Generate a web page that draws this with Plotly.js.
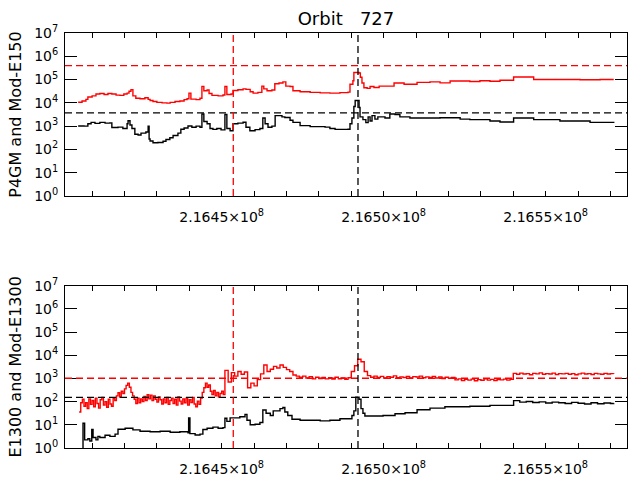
<!DOCTYPE html>
<html>
<head>
<meta charset="utf-8">
<script src="https://cdn.plot.ly/plotly-3.0.1.min.js"></script>
<style>
html, body { margin: 0; padding: 0; background: #fff; }
#orbit { width: 637px; height: 480px; }
</style>
</head>
<body>
<div id="orbit"></div>
<script>
// Top panel, black: P4GM
var p4gmTime = [216405700,216407500,216408700,216409700,216410900,216412400,216414000,216415500,216416100,216418000,
  216419500,216420800,216421100,216421700,216422300,216423200,216424200,216425100,216426600,216427300,
  216427600,216427900,216428800,216430300,216431900,216432800,216434000,216435000,216436500,216437400,
  216438400,216439600,216440800,216442100,216443300,216443900,216444500,216445500,216446400,216447300,
  216448500,216449800,216451000,216451600,216452600,216453500,216455000,216456600,216457500,216458700,
  216460300,216461800,216462700,216463400,216464300,216465500,216466500,216468600,216469500,216471100,
  216472000,216474200,216477300,216481900,216483400,216485000,216489000,216489600,216490200,216490800,
  216491200,216492400,216492700,216493600,216494500,216495200,216495800,216496400,216497300,216498200,
  216500400,216501900,216503500,216505000,216508100,216517400,216523600,216526600,216532800,216535900,
  216540100,216546300,216554400,216563700,216571000];
var p4gmVal = [1020,1000,1260,1450,1320,1450,1350,1380,871,912,
  794,1260,1700,1120,794,447,417,501,562,1000,
  282,229,195,200,224,269,316,398,501,741,
  832,1020,891,1000,891,3310,1580,1260,794,724,
  794,692,3160,794,631,1260,1350,1480,891,631,
  708,794,2240,1260,891,1000,2820,2510,2340,1780,
  1450,1050,955,912,794,724,741,1260,2240,7000,
  12600,6310,2510,1910,1410,2510,1660,2820,2000,2510,
  2240,3310,3160,2510,2240,2290,2000,1910,1660,1510,
  2240,1910,1660,1450,1380];

// Top panel, red: Mod-E150
var modE150Time = [216405700,216406900,216408100,216408700,216410000,216411200,216412400,216413700,216414900,216416100,
  216417400,216418600,216419800,216420800,216421400,216422000,216422600,216423500,216424800,216426300,
  216427300,216427900,216428800,216430000,216431600,216433100,216434100,216435600,216437100,216438400,
  216439300,216439900,216440500,216442100,216443300,216443900,216444500,216445500,216446100,216447000,
  216448900,216450400,216451000,216451600,216452900,216453500,216455000,216456600,216457500,216458800,
  216459700,216461200,216462400,216463000,216464000,216465500,216466400,216467700,216468900,216469800,
  216471100,216472000,216474200,216477300,216480400,216483400,216486500,216489000,216489600,216490500,
  216490800,216492400,216492800,216493300,216493900,216494900,216495800,216497000,216498600,216503200,
  216506300,216510300,216514300,216517400,216520500,216526600,216529700,216532800,216535900,216540100,
  216546300,216554400,216560600,216566800,216571000];
var modE150Val = [10700,12000,14100,17800,20000,24000,25100,22900,25100,24000,
  21400,20900,24000,26300,31600,37200,20000,15800,15100,16600,
  14100,12600,11500,10500,10000,9770,10500,11500,12000,13800,
  15100,26300,14500,13800,15800,51300,33100,35500,25100,20900,
  20000,21900,50100,22900,24000,33900,36300,39800,38000,30200,
  26300,28200,52500,39800,33100,35500,66100,70800,79400,52500,
  50100,33100,30200,28200,26900,26300,27500,28800,63100,89100,
  200000,191000,126000,70800,44700,41700,50100,45700,52500,70800,
  63100,75900,79400,72400,87100,83200,89100,85100,93300,129000,
  100000,100000,97700,100000,100000];

// Bottom panel, black: E1300
var e1300Time = [216405700,216407200,216407700,216408700,216409300,216409900,216410300,216411200,216411800,216412400,
  216414000,216415500,216417100,216418000,216420200,216422600,216424800,216427900,216431000,216434100,
  216437100,216439600,216439800,216440200,216441800,216443300,216444200,216445500,216447300,216448900,
  216450400,216451000,216451600,216452600,216455600,216457200,216457800,216458800,216460300,216461800,
  216462700,216463700,216465000,216465900,216468000,216468900,216469500,216470400,216471700,216474200,
  216480400,216483400,216486500,216489600,216490200,216490800,216491400,216492400,216493000,216493600,
  216494200,216499800,216503500,216506600,216510300,216514300,216518900,216526600,216532800,216540100,
  216542000,216544000,216546000,216548000,216550000,216552000,216554000,216556000,216558000,216560000,
  216562000,216564000,216566000,216568000,216570000,216571000];
var e1300Val = [0.8,11.7,2.24,2.51,2.00,6.31,2.82,2.24,3.16,2.82,
  3.55,3.16,3.98,6.46,7.08,6.03,5.25,5.01,5.25,4.79,
  5.01,4.57,20.0,4.17,3.63,3.98,6.31,7.08,7.94,7.08,
  7.59,19.1,14.1,20.0,22.4,28.2,15.8,10.0,10.5,12.6,
  43.7,31.6,25.1,39.8,50.1,56.2,35.5,25.1,17.4,15.8,
  14.8,15.8,18.2,18.2,25.1,39.8,155,126,50.1,31.6,
  24.0,25.1,30.2,33.1,44.7,52.5,60.3,63.1,69.2,110,
  95.5,102,91.2,97.7,87.1,95.5,89.1,83.2,93.3,85.1,
  79.4,89.1,81.3,87.1,83.2,85.1];

// Bottom panel, red: Mod-E1300
var modE1300Time = [
  216406000,216406500,216407000,216407500,216408000,216408500,216409000,216409500,216410000,216410500,
  216411000,216411500,216412000,216412500,216413000,216413500,216414000,216414500,216415000,216415500,
  216416000,216416500,216417000,216417500,216418000,216418500,216419000,216419500,216420000,216420500,
  216421000,216421500,216422000,216422500,216423000,216423500,216424000,216424500,216425000,216425500,
  216426000,216426500,216427000,216427500,216428000,216428500,216429000,216429500,216430000,216430500,
  216431000,216431500,216432000,216432500,216433000,216433500,216434000,216434500,216435000,216435500,
  216436000,216436500,216437000,216437500,216438000,216438500,216439000,216439500,216440000,216440500,
  216441000,216441500,216442000,216442500,216443000,216443500,216444000,216444500,216445000,216445500,
  216446000,216446500,216447000,216447500,216448000,216448500,216449000,216449500,216450000,216450500,
  216451000,216452000,216453000,216454000,216455000,216456000,216457000,216458000,216459000,216460000,
  216461000,216462000,216463000,216464000,216465000,216466000,216467000,216468000,216469000,216470000,
  216471000,216472000,216473000,216474000,216475000,216476000,216477000,216478000,216479000,216480000,
  216481000,216482000,216483000,216484000,216485000,216486000,216487000,216488000,216489000,216490000,
  216491000,216492000,216493000,216494000,216495000,216496000,216497000,216498000,216499000,216500000,
  216501000,216502000,216503000,216504000,216505000,216506000,216507000,216508000,216509000,216510000,
  216511000,216512000,216513000,216514000,216515000,216516000,216517000,216518000,216519000,216520000,
  216521000,216522000,216523000,216524000,216525000,216526000,216527000,216528000,216529000,216530000,
  216531000,216532000,216533000,216534000,216535000,216536000,216537000,216538000,216539000,216540000,
  216541000,216542000,216543000,216544000,216545000,216546000,216547000,216548000,216549000,216550000,
  216551000,216552000,216553000,216554000,216555000,216556000,216557000,216558000,216559000,216560000,
  216561000,216562000,216563000,216564000,216565000,216566000,216567000,216568000,216569000,216570000,
  216571000];
var modE1300Val = [
  35.5,89.1,126,63.1,89.1,50.1,132,75.9,112,60.3,
  141,83.2,52.5,120,151,70.8,100,57.5,126,79.4,
  63.1,138,112,178,240,158,282,224,355,501,
  631,417,251,178,126,83.2,141,89.1,132,100,
  166,112,200,132,191,112,178,126,95.5,158,
  120,79.4,132,89.1,151,75.9,112,141,83.2,126,
  70.8,158,105,79.4,132,89.1,141,70.8,120,91.2,
  151,79.4,60.3,105,75.9,141,251,398,631,417,
  525,282,200,302,178,251,158,224,282,200,
  2240,708,1780,1260,2000,1510,1910,398,631,479,
  891,1580,3800,2000,2510,3310,2820,3800,3020,2400,
  2000,1410,1260,1120,1260,1050,1200,955,1120,1000,
  1100,955,1070,933,1120,977,1050,912,1070,2000,
  3550,6760,5250,2000,1320,1120,1260,1100,1230,1050,
  1200,1120,1290,1070,1170,1100,1230,1050,1200,1150,
  1260,1070,1170,1100,1230,1050,1150,1000,1120,1020,
  1100,871,955,813,912,851,933,794,891,832,
  955,851,912,813,891,871,933,851,912,1660,
  1510,1700,1550,1620,1450,1660,1580,1740,1510,1620,
  1550,1700,1480,1620,1580,1660,1510,1620,1450,1580,
  1700,1550,1620,1480,1660,1580,1510,1660,1550,1620,
  1580];

// Dashed reference levels
var topLevels = [4.0e5, 3700];
var bottomLevels = [1020, 153];
var levelColors = ['#ff0000', '#000000'];
var eventTimes = [216453580, 216492070];
var eventColors = ['#ff0000', '#000000'];

// Axes
var xRange = [216401640, 216575100];
var xMinorVals = [216410000,216420000,216430000,216440000,216460000,216470000,216480000,216490000,
  216510000,216520000,216530000,216540000,216560000,216570000];
var xMajorVals = [216450000, 216500000, 216550000];
var xMajorText = ['2.1645\u00d710<sup>8</sup>', '2.1650\u00d710<sup>8</sup>', '2.1655\u00d710<sup>8</sup>'];
var yTickVals = [1, 10, 100, 1000, 10000, 100000, 1000000, 10000000];
var yTickText = ['10<sup>0</sup>','10<sup>1</sup>','10<sup>2</sup>','10<sup>3</sup>','10<sup>4</sup>','10<sup>5</sup>','10<sup>6</sup>','10<sup>7</sup>'];

function series(x, y, color, xa, ya) {
  return {
    x: x, y: y, xaxis: xa, yaxis: ya,
    type: 'scatter', mode: 'lines',
    line: { color: color, width: 1.4, shape: 'hv' },
    hoverinfo: 'skip'
  };
}

var data = [
  series(p4gmTime, p4gmVal, '#000000', 'x', 'y'),
  series(modE150Time, modE150Val, '#ff0000', 'x', 'y'),
  series(e1300Time, e1300Val, '#000000', 'x2', 'y2'),
  series(modE1300Time, modE1300Val, '#ff0000', 'x2', 'y2')
];

var shapes = [];
function hline(level, color, xa, ya) {
  shapes.push({ type: 'line', xref: xa + ' domain', yref: ya, x0: 0, x1: 1, y0: level, y1: level,
    line: { color: color, width: 1.3, dash: '7px,4px' } });
}
function vline(t, color, xa, ya) {
  shapes.push({ type: 'line', xref: xa, yref: ya + ' domain', x0: t, x1: t, y0: 0, y1: 1,
    line: { color: color, width: 1.3, dash: '7px,4px' } });
}
topLevels.forEach(function (v, i) { hline(v, levelColors[i], 'x', 'y'); });
bottomLevels.forEach(function (v, i) { hline(v, levelColors[i], 'x2', 'y2'); });
eventTimes.forEach(function (t, i) {
  vline(t, eventColors[i], 'x', 'y');
  vline(t, eventColors[i], 'x2', 'y2');
});

var font = { family: 'DejaVu Sans, sans-serif', size: 14, color: '#000' };

function xAxis(anchor) {
  return {
    anchor: anchor, range: xRange, type: 'linear',
    tickmode: 'array', tickvals: xMajorVals, ticktext: xMajorText,
    ticks: 'inside', ticklen: 5, tickwidth: 1, tickcolor: '#000',
    minor: { tickmode: 'array', tickvals: xMinorVals, ticks: 'inside', ticklen: 5, tickwidth: 1, tickcolor: '#000' },
    ticklabelstandoff: 8,
    showline: true, linecolor: '#000', linewidth: 1, mirror: 'ticks',
    showgrid: false, zeroline: false, tickfont: font, fixedrange: true
  };
}
function yAxis(anchor, domain, title) {
  return {
    anchor: anchor, domain: domain, type: 'log', range: [0, 7],
    tickmode: 'array', tickvals: yTickVals, ticktext: yTickText,
    ticks: 'inside', ticklen: 12, tickwidth: 1, tickcolor: '#000',
    ticklabelstandoff: 3,
    showline: true, linecolor: '#000', linewidth: 1, mirror: 'ticks',
    showgrid: false, zeroline: false, tickfont: font, fixedrange: true,
    title: { text: title, font: { family: 'DejaVu Sans, sans-serif', size: 16, color: '#000' }, standoff: 8 }
  };
}

var layout = {
  width: 637, height: 480,
  margin: { l: 65, r: 10, t: 33, b: 32 },
  paper_bgcolor: '#fff', plot_bgcolor: '#fff',
  showlegend: false,
  title: {
    text: 'Orbit\u00a0\u00a0\u00a0727',
    font: { family: 'DejaVu Sans, sans-serif', size: 18, color: '#000' },
    x: 0.5, xref: 'paper', xanchor: 'center',
    y: 0.962, yref: 'container', yanchor: 'middle'
  },
  xaxis: xAxis('y'),
  yaxis: yAxis('x', [0.6072, 1], 'P4GM and Mod-E150'),
  xaxis2: xAxis('y2'),
  yaxis2: yAxis('x2', [0, 0.391], 'E1300 and Mod-E1300'),
  shapes: shapes
};

Plotly.newPlot('orbit', data, layout, { displayModeBar: false, staticPlot: true });
</script>
</body>
</html>
